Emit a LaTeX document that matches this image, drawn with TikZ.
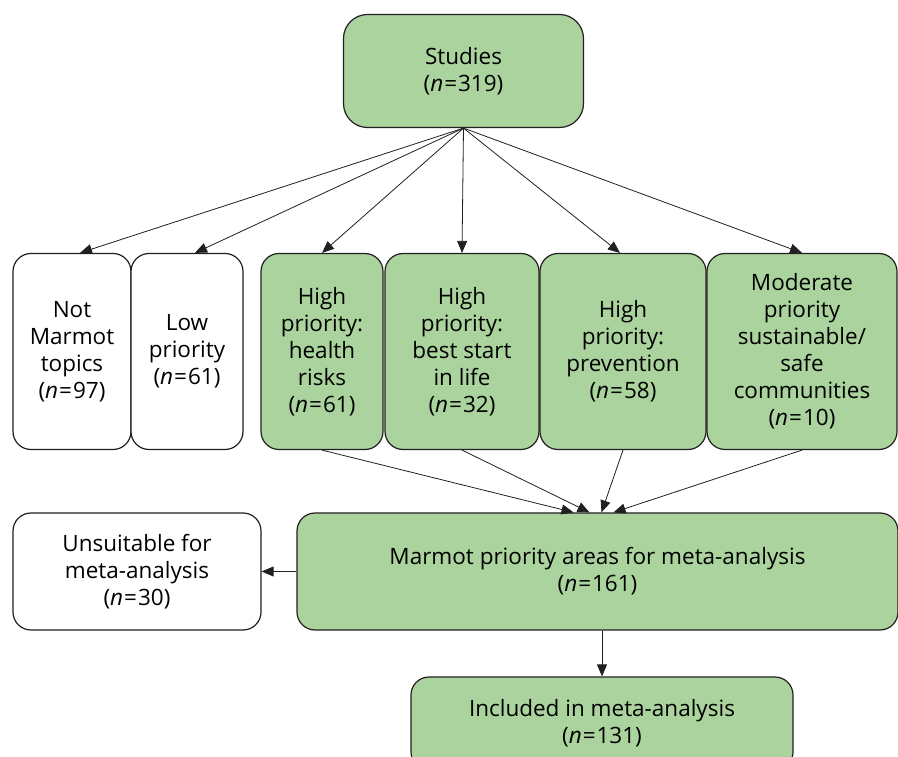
\documentclass[tikz,border=0pt]{standalone}
\usepackage{fontspec}
\setmainfont{Open Sans}
\usetikzlibrary{positioning, arrows.meta}
\definecolor{prioGreen}{RGB}{170,211,157}
\definecolor{lineGrey}{RGB}{35,31,32}

\begin{document}
\begin{tikzpicture}[
		x=1pt, y=-1pt,
		>={Triangle[length=12pt, width=10pt]},
		box/.style={draw=lineGrey, fill=white, line width=1.2pt, rounded corners=18pt, align=center,
			inner sep=2pt, font=\fontsize{22.5}{27}\selectfont},
		prio/.style={box, fill=prioGreen},
		link/.style={->, line width=0.8pt, draw=lineGrey}
		]
		\useasboundingbox (0,0) rectangle (898,757);
		
		% Start
		\node[prio, rounded corners=24pt, minimum width=240pt, minimum height=113pt] (studies) at (463.5,71)
			{Studies\\(\textit{n}\kern1pt=\kern1pt319)};
		
		% Second row: topic groups
		\node[box, minimum width=118pt, minimum height=196pt] (notm) at (72,351.5)
			{Not\\Marmot\\topics\\(\textit{n}\kern1pt=\kern1pt97)};
		\node[box, minimum width=112pt, minimum height=196pt] (low) at (187,351.5)
			{Low\\priority\\(\textit{n}\kern1pt=\kern1pt61)};
		\node[prio, minimum width=122pt, minimum height=196pt] (risks) at (322,351.5)
			{High\\priority:\\health\\risks\\(\textit{n}\kern1pt=\kern1pt61)};
		\node[prio, minimum width=154pt, minimum height=196pt] (start) at (462,351.5)
			{High\\priority:\\best start\\in life\\(\textit{n}\kern1pt=\kern1pt32)};
		\node[prio, minimum width=166pt, minimum height=196pt] (prevent) at (623,351.5)
			{High\\priority:\\prevention\\(\textit{n}\kern1pt=\kern1pt58)};
		\node[prio, minimum width=190pt, minimum height=196pt] (safe) at (802,351.5)
			{Moderate\\priority\\sustainable/\\safe\\communities\\(\textit{n}\kern1pt=\kern1pt10)};
		
		% Meta-analysis stage
		\node[prio, minimum width=601pt, minimum height=117pt] (marmot) at (597.5,571.5)
			{Marmot priority areas for meta-analysis\\(\textit{n}\kern1pt=\kern1pt161)};
		\node[box, minimum width=248pt, minimum height=117pt] (unsuit) at (137,571.5)
			{Unsuitable for\\meta-analysis\\(\textit{n}\kern1pt=\kern1pt30)};
		\node[prio, minimum width=382pt, minimum height=93pt] (incl) at (602,723.5)
			{Included in meta-analysis\\(\textit{n}\kern1pt=\kern1pt131)};
		
		% Arrows
		\draw[link] (studies.south) -- ([xshift=8pt]notm.north);
		\draw[link] (studies.south) -- ([xshift=8pt]low.north);
		\draw[link] (studies.south) -- (risks.north);
		\draw[link] (studies.south) -- (start.north);
		\draw[link] (studies.south) -- ([xshift=-3pt]prevent.north);
		\draw[link] (studies.south) -- (safe.north);
		
		\draw[link] (risks.south) -- ([xshift=-24pt]marmot.north);
		\draw[link] (start.south) -- ([xshift=-8pt]marmot.north);
		\draw[link] (prevent.south) -- ([xshift=4pt]marmot.north);
		\draw[link] (safe.south) -- ([xshift=16pt]marmot.north);
		
		\draw[link] (marmot.west) -- (unsuit.east);
		\draw[link] (incl.north |- marmot.south) -- (incl.north);
		
	\end{tikzpicture}
\end{document}
